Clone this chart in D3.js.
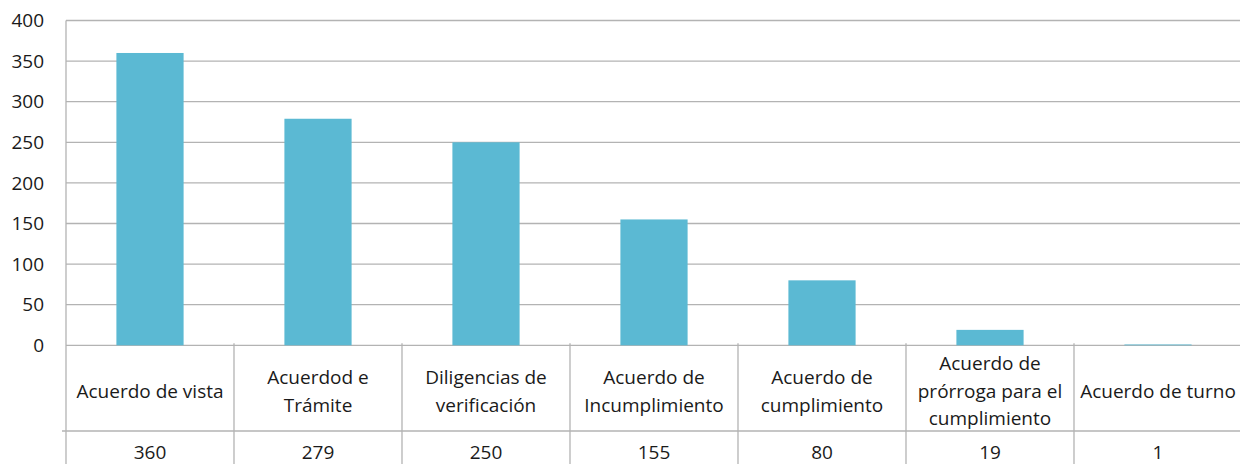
<!DOCTYPE html>
<html><head><meta charset="utf-8">
<script src="https://cdn.jsdelivr.net/npm/d3@7"></script>
<style>body{margin:0;background:#fff}svg{display:block}</style>
</head><body>
<svg id="c" width="1240" height="464"></svg>
<script>
const categories = [["Acuerdo de vista"],["Acuerdod e","Trámite"],["Diligencias de","verificación"],["Acuerdo de","Incumplimiento"],["Acuerdo de","cumplimiento"],["Acuerdo de","prórroga para el","cumplimiento"],["Acuerdo de turno"]];
const values = [360,279,250,155,80,19,1];
const yTicks = [0,50,100,150,200,250,300,350,400];

(function(){
const svg = d3.select("#c");
const font = "'Open Sans', sans-serif";
const fs = 19;
const mLeft = 66, mRight = 1242, mTop = 20.5, zeroY = 345.3, rowY = 431, mBottom = 464;
const x = d3.scaleBand().domain(d3.range(values.length)).range([mLeft, mRight]).paddingInner(0).paddingOuter(0);
const y = d3.scaleLinear().domain([0,400]).range([zeroY, mTop]);
const grid = "#b3b3b3";
const ink = "#1a1a1a";

svg.append("g").selectAll("line").data(yTicks).join("line")
  .attr("x1", mLeft).attr("x2", 1240).attr("y1", d=>y(d)).attr("y2", d=>y(d))
  .attr("stroke", grid).attr("stroke-width", 1.3);
svg.append("line").attr("x1", mLeft).attr("x2", mLeft).attr("y1", mTop).attr("y2", mBottom).attr("stroke", grid).attr("stroke-width",1.3);
svg.append("g").selectAll("text").data(yTicks).join("text")
  .attr("x", 44).attr("y", d=>y(d)).attr("dy","0.35em").attr("text-anchor","end")
  .attr("font-family", font).attr("font-size", fs).attr("fill",ink).text(d=>d);

const bw = x.bandwidth()*0.4;
svg.append("g").selectAll("rect").data(values).join("rect")
  .attr("x", (d,i)=>x(i)+x.bandwidth()/2-bw/2).attr("width", bw)
  .attr("y", d=>y(d)).attr("height", d=>y(0)-y(d)).attr("fill", "#5bb9d3");

svg.append("line").attr("x1", 62).attr("x2", 1240).attr("y1", rowY).attr("y2", rowY).attr("stroke", grid).attr("stroke-width",1.3);
svg.append("g").selectAll("line").data(d3.range(1, values.length)).join("line")
  .attr("x1", i=>x(i)).attr("x2", i=>x(i)).attr("y1", zeroY-2).attr("y2", mBottom)
  .attr("stroke", grid).attr("stroke-width",1.3);

const lh = 27.5;
const cat = svg.append("g").selectAll("text").data(categories).join("text")
  .attr("text-anchor","middle").attr("font-family", font).attr("font-size", fs).attr("fill",ink);
cat.each(function(lines,i){
  const t = d3.select(this);
  const cy = (zeroY+rowY)/2 + 3;
  lines.forEach((l,k)=>{
    t.append("tspan").attr("x", x(i)+x.bandwidth()/2)
     .attr("y", cy + (k-(lines.length-1)/2)*lh).attr("dy","0.35em").text(l);
  });
});
svg.append("g").selectAll("text").data(values).join("text")
  .attr("x",(d,i)=>x(i)+x.bandwidth()/2).attr("y", 452).attr("dy","0.35em")
  .attr("text-anchor","middle").attr("font-family", font).attr("font-size", fs).attr("fill",ink).text(d=>d);
})();
</script>
</body></html>
